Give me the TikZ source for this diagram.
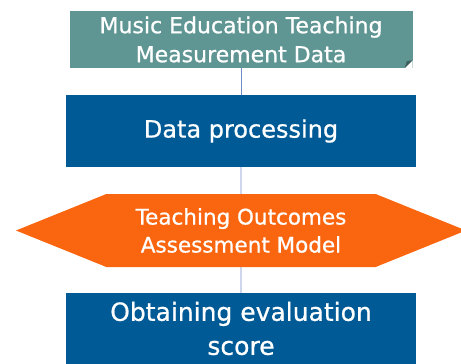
\documentclass[tikz,border=0pt]{standalone}
\usepackage{fontspec}
\setmainfont{DejaVu Sans}
\newfontfamily\boxfont{DejaVu Sans}[FakeBold=0.7]
\usetikzlibrary{shapes.symbols}

\definecolor{tealbox}{RGB}{95,150,148}
\definecolor{bluebox}{RGB}{0,90,150}
\definecolor{orangebox}{RGB}{250,102,15}
\definecolor{linkline}{RGB}{112,140,200}

\tikzset{
  block/.style={rectangle, inner sep=0pt, text=white, align=center},
  link/.style={draw=linkline, line width=0.8pt}
}

\begin{document}
\begin{tikzpicture}[x=1pt,y=-1pt]
\useasboundingbox (0,0) rectangle (461,364);
\clip (0,0) rectangle (461,364);

\node[block, fill=tealbox, minimum width=343pt, minimum height=57pt,
  font=\boxfont\fontsize{22}{29}\selectfont] (data) at (241,39.5)
  {Music Education Teaching\\Measurement Data};
% folded corner
\fill[white] (data.south east) -- ([yshift=8pt]data.south east)
  -- ([xshift=-8pt]data.south east) -- cycle;
\fill[tealbox!65!black] ([xshift=-8pt]data.south east)
  -- ([yshift=8pt]data.south east) -- ([xshift=-6pt,yshift=7pt]data.south east) -- cycle;

\node[block, fill=bluebox, minimum width=350pt, minimum height=72pt,
  font=\boxfont\fontsize{24}{30}\selectfont] (proc) at (241,131) {Data processing};

\node[signal, signal to=west and east, signal pointer angle=44, fill=orangebox,
  text=white, inner sep=0pt, minimum width=450pt, minimum height=73pt, align=center,
  font=\boxfont\fontsize{21.5}{28}\selectfont] (model) at (241,230.5)
  {Teaching Outcomes\\Assessment Model};

\node[block, fill=bluebox, minimum width=350pt, minimum height=71pt,
  font=\boxfont\fontsize{25}{34}\selectfont] (score) at (241,328.5)
  {Obtaining evaluation\\score};

\draw[link] (data) -- (proc);
\draw[link] (proc) -- (model);
\draw[link] (model) -- (score);
\end{tikzpicture}
\end{document}
